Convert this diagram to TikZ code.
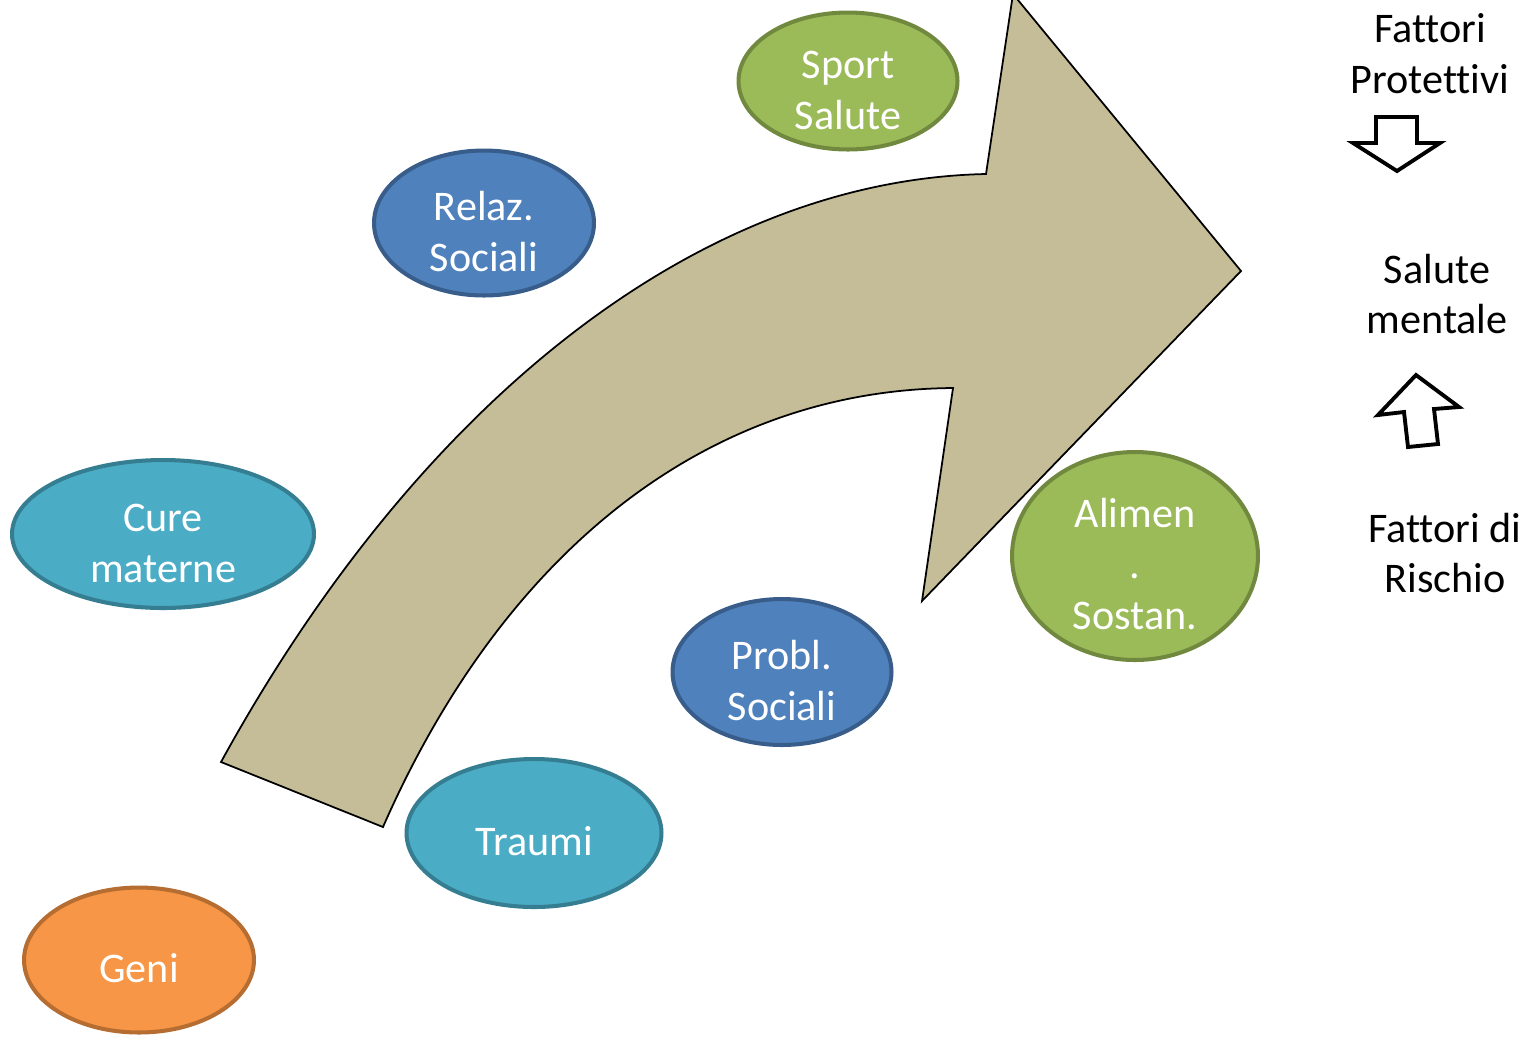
\documentclass[tikz,border=0pt]{standalone}
\usepackage{fontspec}
\setmainfont{Carlito}[Ligatures=NoCommon]
\usetikzlibrary{shapes.geometric}
\definecolor{verde}{HTML}{9BBB59}
\definecolor{verdebordo}{HTML}{71893F}
\definecolor{blu}{HTML}{4F81BD}
\definecolor{blubordo}{HTML}{385D8A}
\definecolor{azzurro}{HTML}{4BACC6}
\definecolor{azzurrobordo}{HTML}{357D91}
\definecolor{arancio}{HTML}{F79646}
\definecolor{aranciobordo}{HTML}{B66D31}
\definecolor{sabbia}{HTML}{C4BD97}
\newcommand{\alto}{\rule{0pt}{26pt}}
\begin{document}
\begin{tikzpicture}[x=0.02cm,y=-0.02cm,
  fattore/.style={ellipse,inner xsep=0pt,inner ysep=-8pt,line width=2.3pt,text=white,align=center,
    font=\fontsize{24}{29}\selectfont},
  verdi/.style={fattore,fill=verde,draw=verdebordo},
  blus/.style={fattore,fill=blu,draw=blubordo},
  azzurri/.style={fattore,fill=azzurro,draw=azzurrobordo},
  aranci/.style={fattore,fill=arancio,draw=aranciobordo},
  scritta/.style={align=center,font=\fontsize{24}{29}\selectfont},
  freccia/.style={draw=black,line width=2.2pt,fill=white,line join=miter}]
\path[use as bounding box,clip] (0,0) rectangle (1528,1036);
% la freccia grande
\draw[fill=sabbia,line width=1pt,line join=miter] (221,762)
  .. controls (420,400) and (700,180) .. (986,174)
  -- (1013,-6) -- (1241,271) -- (922,601) -- (953,388)
  .. controls (700,390) and (500,560) .. (383,827) -- cycle;
% i fattori
\node [verdi,minimum width=4.38cm,minimum height=2.74cm] (sport) at (848,81) {\alto Sport\\Salute};
\node [blus,minimum width=4.4cm,minimum height=2.9cm] (relaz) at (484,223) {\alto Relaz.\\Sociali};
\node [azzurri,minimum width=6.04cm,minimum height=2.96cm] (cure) at (163,534) {\alto Cure\\materne};
\node [verdi,minimum width=4.92cm,minimum height=4.16cm] (alimen) at (1135,556) {\alto Alimen\\.\\Sostan.};
\node [blus,minimum width=4.38cm,minimum height=2.92cm] (probl) at (782,672) {\alto Probl.\\Sociali};
\node [azzurri,minimum width=5.1cm,minimum height=2.96cm] (traumi) at (534,833) {\alto Traumi};
\node [aranci,minimum width=4.6cm,minimum height=2.9cm] (geni) at (139,960) {\alto Geni};
% la colonna a destra
\node [scritta] (protettivi) at (1430,54) {Fattori\\Protettivi};
\node [scritta] (salute) at (1437,294) {Salute\\mentale};
\node [scritta] (rischio) at (1445,553) {Fattori di\\Rischio};
\draw[freccia] (1376,117) -- (1417,117) -- (1417,143) -- (1440,143) -- (1397,171)
  -- (1353,143) -- (1376,143) -- cycle;
\draw[freccia] (1416,375) -- (1459,407) -- (1434,409) -- (1438,444) -- (1408,447)
  -- (1404,412) -- (1378,415) -- cycle;
\end{tikzpicture}
\end{document}
